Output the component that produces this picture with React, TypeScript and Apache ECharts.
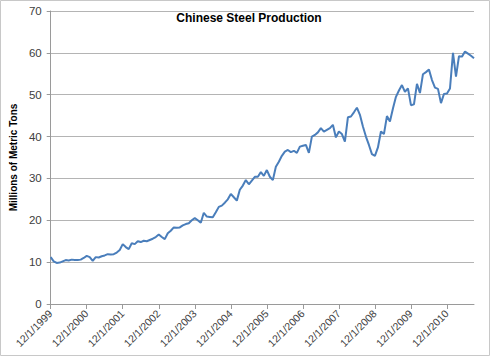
import React, { useEffect, useRef } from "react";
import * as echarts from "echarts";

const START_YEAR = 1999;
const START_MONTH = 12;
const MONTH_COUNT = 142;

const categories: string[] = [];
for (let k = 0; k < MONTH_COUNT; k++) {
  const m0 = START_MONTH - 1 + k;
  const y = START_YEAR + Math.floor(m0 / 12);
  const m = (m0 % 12) + 1;
  categories.push(`${m}/1/${y}`);
}

const production: number[] = [
  // Dec 1999 - Nov 2000
  11.2, 10.2, 9.8, 9.9, 10.2, 10.5, 10.4, 10.6, 10.5, 10.5, 10.6, 11.0,
  // Dec 2000 - Nov 2001
  11.5, 11.2, 10.3, 11.2, 11.1, 11.4, 11.6, 11.9, 11.8, 11.9, 12.3, 12.9,
  // Dec 2001 - Nov 2002
  14.3, 13.6, 13.1, 14.5, 14.3, 15.0, 14.8, 15.1, 15.0, 15.3, 15.6, 16.0,
  // Dec 2002 - Nov 2003
  16.6, 16.0, 15.5, 16.9, 17.5, 18.3, 18.2, 18.3, 18.8, 19.1, 19.3, 20.0,
  // Dec 2003 - Nov 2004
  20.5, 20.0, 19.4, 21.8, 20.9, 20.8, 20.7, 21.9, 23.2, 23.5, 24.2, 25.0,
  // Dec 2004 - Nov 2005
  26.3, 25.5, 24.7, 27.3, 28.3, 29.6, 28.6, 29.5, 30.4, 30.4, 31.5, 30.6,
  // Dec 2005 - Nov 2006
  32.0, 30.4, 29.6, 32.8, 34.0, 35.4, 36.4, 36.8, 36.3, 36.6, 36.1, 37.6,
  // Dec 2006 - Nov 2007
  37.8, 38.0, 36.1, 40.0, 40.4, 41.0, 42.0, 41.2, 41.6, 42.0, 42.8, 39.8,
  // Dec 2007 - Nov 2008
  41.2, 40.6, 38.8, 44.6, 44.8, 45.8, 46.9, 45.2, 42.4, 40.0, 38.0, 35.8,
  // Dec 2008 - Nov 2009
  35.4, 37.4, 41.2, 40.6, 44.9, 43.6, 46.7, 49.5, 51.0, 52.3, 50.7, 51.5,
  // Dec 2009 - Nov 2010
  47.5, 47.7, 52.6, 50.4, 54.9, 55.4, 56.0, 53.5, 51.7, 51.4, 48.0, 50.2,
  // Dec 2010 - Sep 2011
  50.3, 51.5, 60.0, 54.3, 59.2, 59.1, 60.3, 59.8, 59.3, 58.7,
];

const TITLE = "Chinese Steel Production";
const Y_NAME = "Millions of Metric Tons";
const Y_MIN = 0;
const Y_MAX = 70;
const Y_STEP = 10;

export default function App() {
  const ref = useRef<HTMLDivElement>(null);

  useEffect(() => {
    document.body.style.margin = "0";
    if (!ref.current) return;
    const chart = echarts.init(ref.current, null, { renderer: "svg" });
    const font = "Liberation Sans, Arial, sans-serif";
    chart.setOption({
      animation: false,
      backgroundColor: "#ffffff",
      textStyle: { fontFamily: font },
      title: {
        text: TITLE,
        left: 244,
        top: 7,
        textAlign: "center",
        textStyle: { fontSize: 12, fontWeight: "bold", color: "#000000", fontFamily: font },
      },
      graphic: [
        {
          type: "rect",
          shape: { x: 0.5, y: 0.5, width: 489, height: 355 },
          style: { fill: "none", stroke: "#c8c8c8", lineWidth: 1 },
          silent: true,
        },
      ],
      grid: { left: 46, right: 16, top: 11, bottom: 52, containLabel: false },
      xAxis: {
        type: "category",
        data: categories,
        boundaryGap: false,
        axisLine: { show: true, lineStyle: { color: "#9a9a9a", width: 1 } },
        axisTick: { show: true, interval: 11, length: 5, lineStyle: { color: "#9a9a9a" } },
        axisLabel: {
          interval: 11,
          rotate: 45,
          fontSize: 10.5,
          color: "#404040",
          margin: 8,
          fontFamily: font,
        },
        splitLine: { show: false },
      },
      yAxis: {
        type: "value",
        min: Y_MIN,
        max: Y_MAX,
        interval: Y_STEP,
        name: Y_NAME,
        nameLocation: "middle",
        nameGap: 28,
        nameRotate: 90,
        nameTextStyle: { fontSize: 10, fontWeight: "bold", color: "#000000", fontFamily: font },
        axisLine: { show: true, lineStyle: { color: "#9a9a9a", width: 1 } },
        axisTick: { show: true, length: 4, inside: false, lineStyle: { color: "#9a9a9a" } },
        axisLabel: { fontSize: 11.5, color: "#404040", margin: 9, fontFamily: font },
        splitLine: { show: true, lineStyle: { color: "#b4b4b4", width: 1 } },
      },
      series: [
        {
          type: "line",
          data: production,
          symbol: "none",
          smooth: false,
          lineStyle: { color: "#4a7ebb", width: 2 },
        },
      ],
    });
    return () => chart.dispose();
  }, []);

  return <div ref={ref} style={{ width: 490, height: 356 }} />;
}
